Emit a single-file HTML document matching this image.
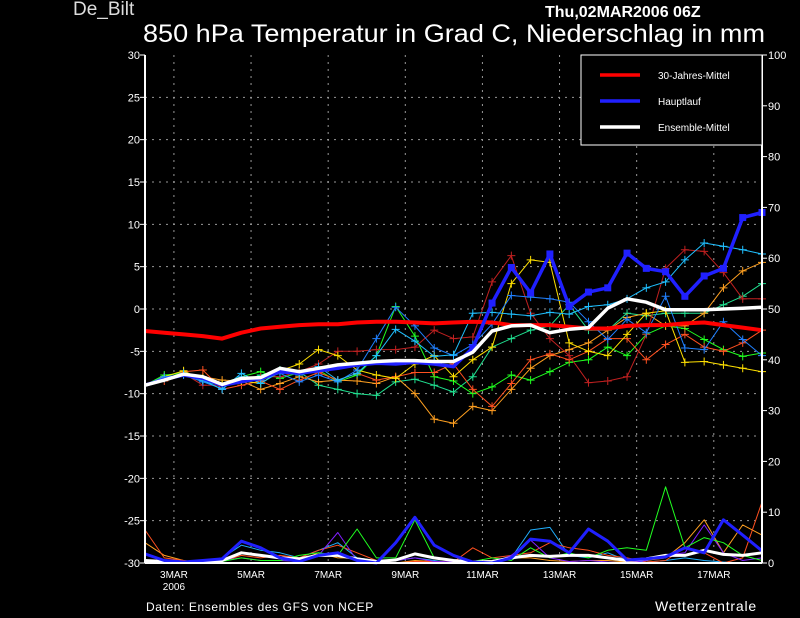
<!DOCTYPE html>
<html><head><meta charset="utf-8"><style>
html,body{margin:0;padding:0;background:#000;}
svg{display:block;font-family:"Liberation Sans",sans-serif;}
</style></head><body>
<svg id="chart" width="800" height="618" viewBox="0 0 800 618" xmlns="http://www.w3.org/2000/svg">
<rect x="0" y="0" width="800" height="618" fill="#000"/>
<text x="73" y="15" fill="#ddd" font-size="19">De_Bilt</text>
<text x="545" y="17" fill="#fff" font-size="16" font-weight="bold">Thu,02MAR2006 06Z</text>
<text x="143" y="42" fill="#fff" font-size="25" textLength="622" lengthAdjust="spacingAndGlyphs">850 hPa Temperatur in Grad C, Niederschlag in mm</text>
<g id="grid"></g>
<g id="precip"></g>
<g id="temps"></g>
<g id="axes"></g>
<g>
<rect x="581" y="55" width="181" height="90" fill="#000" stroke="#fff" stroke-width="1"/>
<line x1="600" y1="75" x2="640" y2="75" stroke="#ff0000" stroke-width="3.5"/>
<text x="658" y="79" fill="#fff" font-size="10">30-Jahres-Mittel</text>
<line x1="600" y1="101" x2="640" y2="101" stroke="#2020ff" stroke-width="3.5"/>
<text x="658" y="105" fill="#fff" font-size="10">Hauptlauf</text>
<line x1="600" y1="127" x2="640" y2="127" stroke="#fff" stroke-width="3.5"/>
<text x="658" y="131" fill="#fff" font-size="10">Ensemble-Mittel</text>
</g>
<text x="146" y="611" fill="#fff" font-size="12" letter-spacing="0.6">Daten: Ensembles des GFS von NCEP</text>
<text x="655" y="611" fill="#fff" font-size="14" letter-spacing="0.8">Wetterzentrale</text>
</svg>
<script>
const dateLabels = ["3MAR","5MAR","7MAR","9MAR","11MAR","13MAR","15MAR","17MAR"];
const dateDays = [1, 3, 5, 7, 9, 11, 13, 15];
const tempTicks = [30,25,20,15,10,5,0,-5,-10,-15,-20,-25,-30];
const precipTicks = [0,10,20,30,40,50,60,70,80,90,100];
const climate = [-2.6,-2.8,-3.0,-3.2,-3.5,-2.8,-2.3,-2.1,-1.9,-1.8,-1.8,-1.6,-1.5,-1.5,-1.6,-1.7,-1.6,-1.5,-1.6,-1.9,-1.9,-1.9,-2.1,-2.3,-2.3,-2.0,-1.9,-1.9,-1.7,-1.6,-1.9,-2.2,-2.5];
const mainRun = [-9,-8.3,-7.8,-8.2,-9,-8.6,-8.2,-7.4,-7.6,-7.3,-7,-6.6,-6.4,-6.5,-6.3,-6.5,-6.8,-4.6,0.7,4.9,1.9,6.5,0.3,2.0,2.5,6.6,4.8,4.4,1.5,3.9,4.8,10.8,11.4];
const ensMean = [-9,-8.4,-7.7,-8.0,-8.9,-8.2,-8.1,-7.0,-7.4,-7.0,-6.6,-6.4,-6.2,-6.1,-6.1,-6.2,-6.2,-5.1,-2.6,-2.0,-1.9,-2.8,-2.4,-2.2,0.1,1.2,0.8,-0.1,-0.1,-0.1,0.0,0.1,0.2];
const memCyan = [-9,-8.2,-7.6,-8.4,-9.5,-7.6,-8.8,-7.4,-7.8,-6.8,-8.4,-7.6,-5.5,-2.4,-3.8,-5.6,-5.4,-0.5,-0.4,-0.6,-0.8,-0.4,-0.6,0.3,0.5,1.2,2.5,3.2,5.8,7.8,7.4,7.0,6.5];
const memBlue = [-9,-8,-7.8,-8.6,-9.4,-8,-8.4,-7.6,-8.6,-7.8,-8.6,-7.2,-3.5,0.2,-2.0,-4.6,-5.5,-4.2,-1.8,1.6,1.4,1.2,0.8,-1.5,-3.6,-1.2,-2.8,1.5,-4.6,-4.8,-1.5,-3.6,-5.5];
const memGreen = [-9,-7.8,-7.6,-8.2,-8.8,-8,-7.4,-8.2,-7.5,-7.2,-8.6,-7.8,-5.5,0.3,-3.2,-8.0,-8.5,-10,-9.2,-7.8,-8.4,-7.4,-6.3,-6.0,-4.5,-5.5,-3,-2,-2.3,-3.6,-4.8,-5.6,-5.2];
const memSpring = [-9,-8,-7.4,-8.6,-9,-8.6,-7.8,-7.2,-7.4,-9,-9.5,-10,-10.2,-8.6,-8.3,-9,-9.8,-8,-4.5,-3.5,-2.5,-2,0.5,-2.5,-2.5,-0.5,-0.8,-0.5,-0.5,-0.5,0.5,1.5,3.0];
const memYellow = [-9,-8,-7.3,-8.4,-8.9,-8.5,-8.8,-7.3,-6.5,-4.8,-5.5,-7.2,-7.8,-8.2,-6.5,-5.5,-8,-6,-4.5,3,5.8,5.5,-4,-5,-5.5,-3,-0.5,-0.2,-6.3,-6.2,-6.6,-7.0,-7.4];
const memOrange = [-9,-8.2,-7.7,-8,-8.4,-8.5,-9.5,-8.8,-8,-8.6,-8.4,-8.5,-8.8,-8.0,-10,-13,-13.5,-11.5,-12,-9.5,-7,-5.5,-4.8,-4,-2.5,-1,-0.5,-2,-2,-0.5,2.5,4.5,5.5];
const memRed = [-9,-8.5,-7.4,-7.2,-9.5,-9,-8.5,-9.5,-8.4,-7.5,-8.4,-7.6,-8.4,-8.0,-7.5,-7.5,-6.5,-9.5,-11.5,-8.8,-6,-5.3,-6,-5,-3.5,-3.5,-6,-4.2,-3,-4.5,-5,-4,-2.5];
const memBrick = [-9,-8.2,-7.6,-9,-9,-8.6,-8,-8,-7.4,-6.5,-5,-5,-4.8,-4.8,-4.5,-2.5,-3.5,-3.3,3.2,6.3,-0.5,-3.5,-5.5,-8.7,-8.5,-8,-3,4.8,7.0,6.8,4.3,1.2,1.2];
const prMain = [1.8,0.5,0.2,0.5,0.8,4.3,3,1,0.3,1.5,2,0.5,0,4,9,3.5,1.5,0.2,0,1,4.7,4.3,2,6.7,4.3,0.6,0.8,1.2,3,2,8.5,5.5,2.4];
const prGreen = [0.3,0.2,0.1,0,0.3,1,0.5,0.5,1.5,2,1.5,6.7,1,1,8.5,1,0.5,0.3,1,0.5,3,1,2,1,2.5,3,2.5,15,3,5,4,1.5,0.5];
const prMean = [0.5,0.3,0.1,0.2,0.5,2,1.5,1,0.8,1.5,1.5,0.8,0.3,0.6,1.8,1,0.5,0.2,0.3,1,1.5,1.3,1.5,1.5,1,0.5,0.8,1.5,1.5,2.5,1.7,1.5,2];
const prCyan = [0,0.3,0,0.3,1,3.5,2.5,2,1,2.5,4,1,0.5,0.5,1,0.5,0,0.2,0,1,6.5,7,1.5,1,2,0.5,0.2,0.5,1,0.5,0.2,0,0];
const prOrange = [4,1.5,0.5,0,0.3,2,1.5,1,0.5,2,1,1,0.2,0,0.5,0.3,0,0.3,0.5,1,1,0.5,0.3,0.5,0.5,0.2,0.5,1,4,8.5,2,7.5,5.5];
const prRed = [6.5,1,0.5,0,0.3,1.5,1,1.5,1,2.5,3.5,2,0.5,0,0.3,0.3,0.2,3,1,1.5,2,4,3,2.5,1.5,1,0.2,0.5,3,2,0,1,12];
const prPurple = [0.2,0,0,0.3,0.5,1,0.5,0.5,0.3,1.5,6,0.5,0.2,0.5,1,0.3,0.2,0,0,1.5,4.5,1,0.3,0.5,0.2,0,0.5,1.5,2,7.5,2,0.5,1];

const NS="http://www.w3.org/2000/svg";
const X0=145, X1=762, Y0=55, Y1=563;
function xDay(d){ return X0 + (d-0.25)/16*(X1-X0); } // d = days since 2MAR00Z
function xIdx(i,n){ return X0 + i*(X1-X0)/(n-1); }
function yT(t){ return Y0 + (30-t)/60*(Y1-Y0); }
function yP(p){ return Y1 - p/100*(Y1-Y0); }
function mk(tag,attrs,parent){ const e=document.createElementNS(NS,tag); for(const k in attrs) e.setAttribute(k,attrs[k]); parent.appendChild(e); return e; }

const grid=document.getElementById('grid'), axes=document.getElementById('axes');
const tg=document.getElementById('temps'), pg=document.getElementById('precip');

tempTicks.forEach(t=>{
  const y=yT(t);
  if(t>-30 && t<30){
    const l=mk('line',{x1:X0,y1:y,x2:X1,y2:y,stroke:'#999','stroke-width':1,'stroke-dasharray':'2,5'},grid);
    
    
  }
  const tk=mk('line',{x1:X0-5,y1:y,x2:X0,y2:y,stroke:'#fff','stroke-width':1},axes);
  
  
  const tx=mk('text',{x:X0-5,y:y+4,fill:'#fff','font-size':11,'text-anchor':'end'},axes);
  tx.textContent=t;
  
  
});
precipTicks.forEach(p=>{
  const y=yP(p);
  const tk=mk('line',{x1:X1,y1:y,x2:X1+5,y2:y,stroke:'#fff','stroke-width':1},axes);
  
  
  const tx=mk('text',{x:X1+6,y:y+4,fill:'#fff','font-size':11},axes);
  tx.textContent=p;
  
  
});
dateLabels.forEach((lab,i)=>{
  const gx=xDay(dateDays[i]);
  const l=mk('line',{x1:gx,y1:Y0,x2:gx,y2:Y1,stroke:'#999','stroke-width':1,'stroke-dasharray':'2,5'},grid);
  
  
  const tx=mk('text',{x:gx,y:578,fill:'#fff','font-size':10,'text-anchor':'middle'},axes);
  tx.textContent=lab;
  
  
  if(i===0){
    const yr=mk('text',{x:gx,y:590,fill:'#fff','font-size':10,'text-anchor':'middle'},axes);
    yr.textContent='2006';
    
    
  }
});
[[X0,Y0,X0,Y1],[X1,Y0,X1,Y1],[X0,Y1,X1,Y1]].forEach(c=>{
  const l=mk('line',{x1:c[0],y1:c[1],x2:c[2],y2:c[3],stroke:'#fff','stroke-width':2},axes);
  
  
});

function poly(arr,yf,color,w,parent,name,cross){
  const n=arr.length;
  const pts=arr.map((v,i)=>xIdx(i,n).toFixed(1)+','+yf(v).toFixed(1)).join(' ');
  const p=mk('polyline',{points:pts,fill:'none',stroke:color,'stroke-width':w,'stroke-linejoin':'round'},parent);
  
  
  if(cross){
    arr.forEach((v,i)=>{
      if(i===0) return;
      const x=xIdx(i,n), y=yf(v);
      const c=mk('path',{d:`M${x-4},${y}H${x+4}M${x},${y-4}V${y+4}`,stroke:color,'stroke-width':1},parent);
      
      
    });
  }
}
const prSeries=[[prCyan,'#20b0ff'],[prOrange,'#ffa020'],[prRed,'#ff5020'],[prPurple,'#8020ff'],[prGreen,'#20ff20']];
prSeries.forEach(s=>poly(s[0],yP,s[1],1,pg,'precip-member',false));
poly(prMean,yP,'#fff',3,pg,'precip-mean',false);
poly(prMain,yP,'#2020ff',3,pg,'precip-main',false);

const members=[[memSpring,'#20e090'],[memGreen,'#20ff20'],[memOrange,'#ffa020'],[memRed,'#ff5020'],[memBrick,'#c02020'],[memYellow,'#ffe000'],[memBlue,'#2080ff'],[memCyan,'#20c0ff']];
members.forEach(s=>poly(s[0],yT,s[1],1,tg,'temp-member',true));
poly(climate,yT,'#ff0000',4,tg,'climate-line',false);
poly(mainRun,yT,'#2020ff',3.5,tg,'main-run-line',false);
mainRun.forEach((v,i)=>{
  if(i<17) return;
  const r=mk('rect',{x:xIdx(i,mainRun.length)-3.5,y:yT(v)-3.5,width:7,height:7,fill:'#2020ff'},tg);
  
  
});
poly(ensMean,yT,'#fff',3.5,tg,'ensemble-mean-line',false);
</script>
</body></html>
